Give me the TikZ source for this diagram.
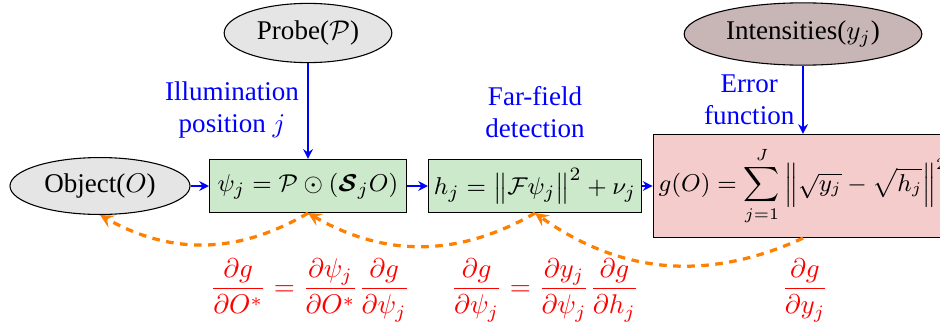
\documentclass[tikz,border=0pt]{standalone}
\usepackage{amsmath,amssymb}
\usepackage{bm}
\usepackage{fontspec}
\setmainfont{Liberation Serif}
\usepackage{tikz}
\usetikzlibrary{arrows.meta,shapes.geometric,positioning}

\definecolor{boxgreen}{RGB}{204,233,204}
\definecolor{boxred}{RGB}{244,204,204}
\definecolor{intensbrown}{RGB}{200,181,181}

\begin{document}
\begin{tikzpicture}[every node/.style={font=\normalsize},
  blob/.style={ellipse,draw,fill=gray!20,inner sep=1pt},
  opbox/.style={rectangle,draw,fill=boxgreen,minimum height=0.69cm,inner sep=2pt,font=\fontsize{9.5}{11.5}\selectfont},
  flow/.style={-{Stealth[length=3.6pt,width=3.6pt]},blue,line width=0.8pt},
  back/.style={-{Stealth[length=5pt,width=5pt,inset=2pt]},orange,line width=1.2pt,dash pattern=on 2.8pt off 2.4pt,bend left=30},
  note/.style={blue,align=center}]
  \useasboundingbox (0,0) rectangle (12.22,4.277);
  \node[blob,minimum width=2.34cm,minimum height=0.74cm] (obj) at (1.30,1.859) {Object($O$)};
  \node[opbox,minimum width=2.56cm] (psi) at (4.004,1.859) {$\psi_j = \mathcal{P} \odot (\bm{\mathcal{S}}_j O)$};
  \node[opbox,minimum width=2.68cm] (hj) at (6.955,1.859) {$h_j = \big\|\mathcal{F}\psi_j\big\|^2 + \nu_j$};
  \node[opbox,fill=boxred,minimum width=3.82cm,minimum height=1.34cm,font=\fontsize{9}{11}\selectfont] (gfun) at (10.439,1.859)
    {$\displaystyle g(O) = \sum_{j=1}^{J} \Big\|\sqrt{y_j} - \sqrt{h_j}\Big\|^2$};
  \node[blob,minimum width=2.18cm,minimum height=0.77cm] (probe) at (4.004,3.848) {Probe($\mathcal{P}$)};
  \node[blob,fill=intensbrown,minimum width=3.09cm,minimum height=0.81cm] (intens) at (10.439,3.835) {Intensities($y_j$)};
  % labels of the forward arrows
  \node[note] (illum) at (3.016,2.847) {Illumination\\position $j$};
  \node[note] (farfield) at (6.955,2.821) {Far-field\\detection};
  \node[note] (errfun) at (9.74,2.977) {Error\\function};
  % forward model
  \draw[flow] (probe) -- (psi);
  \draw[flow] (intens) -- (gfun);
  \draw[flow] (obj) -- (psi);
  \draw[flow] (psi) -- (hj);
  \draw[flow] (hj) -- (gfun);
  % gradients going back
  \draw[back] (psi.south) to (obj.south);
  \draw[back] (hj.south) to (psi.south);
  \draw[back] (gfun.south) to (hj.south);
  \node[red] (dobj) at (4.03,0.507) {$\dfrac{\partial g}{\partial O^*} = \dfrac{\partial \psi_j}{\partial O^*}\dfrac{\partial g}{\partial \psi_j}$};
  \node[red] (dpsi) at (7.085,0.507) {$\dfrac{\partial g}{\partial \psi_j} = \dfrac{\partial y_j}{\partial \psi_j}\dfrac{\partial g}{\partial h_j}$};
  \node[red] (dy) at (10.465,0.507) {$\dfrac{\partial g}{\partial y_j}$};
\end{tikzpicture}
\end{document}
